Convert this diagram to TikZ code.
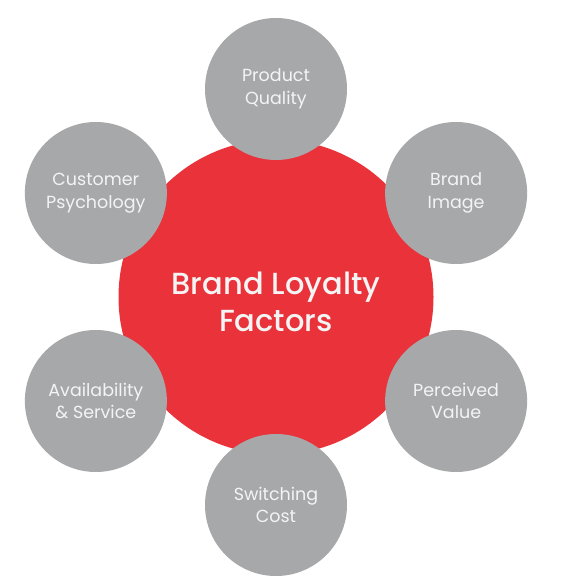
\documentclass[tikz,border=0pt]{standalone}
\usepackage{fontspec}
\setmainfont{Poppins}
\newfontfamily\brandfont{Poppins}[UprightFont=* Medium]
\usepackage{tikz}
\usetikzlibrary{positioning}
\definecolor{corered}{HTML}{E9323A}
\definecolor{factorgray}{HTML}{A7A8AA}
\definecolor{softwhite}{HTML}{F4F4F4}
\tikzset{
  core/.style={circle,fill=corered,minimum size=315pt,inner sep=0pt,
    text=softwhite,font=\brandfont\fontsize{30.5}{37}\selectfont},
  factor/.style={circle,fill=factorgray,minimum size=142pt,inner sep=0pt,align=center,
    text=softwhite,font=\fontsize{17.5}{22.5}\selectfont}
}
\begin{document}
\begin{tikzpicture}[x=1pt,y=1pt]
\useasboundingbox (0,0) rectangle (583,582);
\node[core] (brand) at (276,285)
  {\raisebox{-9pt}[\height][\depth]{\begin{tabular}{@{}c@{}}Brand Loyalty\\Factors\end{tabular}}};
\foreach \ang/\nm/\txt in {90/quality/{Product\\Quality},30/image/{Brand\\Image},
    -30/value/{Perceived\\Value},-90/switching/{Switching\\Cost},
    -150/service/{Availability\\\& Service},150/psychology/{Customer\\Psychology}}
  \node[factor] (\nm) at ([shift={(\ang:208)}]brand.center) {\txt};
\end{tikzpicture}
\end{document}
